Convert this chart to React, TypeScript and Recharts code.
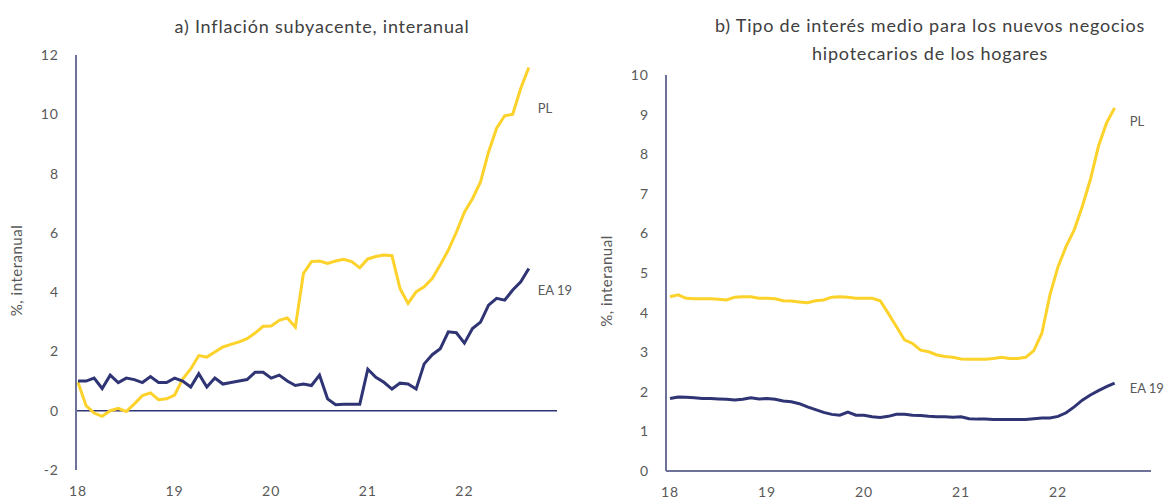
import React from 'react'
import { LineChart, Line, XAxis, YAxis, ReferenceLine, LabelList } from 'recharts'

// monthly, Jan 2018 onwards
const yearTicks = [0, 12, 24, 36, 48]
const yearLabels = ['18', '19', '20', '21', '22']

// a) core inflation, y/y
const coreEA = [
  1.0, 1.0, 1.1, 0.75, 1.2, 0.95, 1.1, 1.05, 0.95, 1.15, 0.95, 0.95,
  1.1, 1.0, 0.8, 1.25, 0.8, 1.1, 0.9, 0.95, 1.0, 1.05, 1.3, 1.3,
  1.1, 1.2, 1.0, 0.85, 0.9, 0.85, 1.2, 0.4, 0.2, 0.22, 0.22, 0.22,
  1.4, 1.13, 0.96, 0.73, 0.93, 0.9, 0.73, 1.58, 1.89, 2.09, 2.66, 2.63,
  2.28, 2.77, 2.99, 3.56, 3.79, 3.73, 4.07, 4.35, 4.8,
]
const corePL = [
  0.96, 0.17, -0.08, -0.19, 0.0, 0.08, -0.03, 0.23, 0.51, 0.6, 0.37, 0.4,
  0.53, 1.07, 1.41, 1.86, 1.81, 1.98, 2.15, 2.24, 2.32, 2.43, 2.62, 2.85,
  2.86, 3.05, 3.13, 2.82, 4.63, 5.03, 5.05, 4.97, 5.05, 5.11, 5.03, 4.82,
  5.12, 5.2, 5.25, 5.23, 4.12, 3.62, 4.01, 4.18, 4.46, 4.92, 5.42, 6.02,
  6.7, 7.15, 7.72, 8.73, 9.53, 9.95, 10.0, 10.88, 11.58,
]

// b) mortgage rates, new business
const mortEA = [
  1.83, 1.87, 1.86, 1.85, 1.83, 1.83, 1.82, 1.81, 1.79, 1.81, 1.85, 1.82,
  1.83, 1.81, 1.77, 1.75, 1.7, 1.62, 1.55, 1.48, 1.43, 1.41, 1.49, 1.41,
  1.41, 1.37, 1.35, 1.38, 1.43, 1.43, 1.41, 1.4, 1.38, 1.37, 1.37, 1.36,
  1.37, 1.32, 1.31, 1.31, 1.3, 1.3, 1.3, 1.3, 1.3, 1.32, 1.34, 1.34,
  1.38, 1.47, 1.62, 1.79, 1.92, 2.03, 2.13, 2.22,
]
const mortPL = [
  4.4, 4.45, 4.36, 4.35, 4.35, 4.35, 4.34, 4.32, 4.39, 4.4, 4.4, 4.36,
  4.36, 4.35, 4.3, 4.29, 4.27, 4.25, 4.3, 4.32, 4.39, 4.4, 4.39, 4.36,
  4.36, 4.36, 4.3, 3.98, 3.65, 3.31, 3.22, 3.05, 3.01, 2.93, 2.89, 2.87,
  2.83, 2.82, 2.82, 2.82, 2.84, 2.87, 2.84, 2.84, 2.87, 3.04, 3.48, 4.45,
  5.16, 5.67, 6.09, 6.68, 7.36, 8.2, 8.79, 9.17,
]

const leftTicks = [-2, 0, 2, 4, 6, 8, 10, 12]
const rightTicks = [0, 1, 2, 3, 4, 5, 6, 7, 8, 9, 10]

const coreData = coreEA.map((v, i) => ({ t: i, ea: v, pl: corePL[i] }))
const mortData = mortEA.map((v, i) => ({ t: i, ea: v, pl: mortPL[i] }))

const YELLOW = '#FDD22B'
const NAVY = '#2F3474'
const AXIS = '#6E7299'
const TXT = '#595959'
const FONT = "Lato, 'Open Sans', sans-serif"

const tickStyle = { fill: TXT, fontSize: 14, fontFamily: FONT, letterSpacing: 1 }
const yearFmt = (v: number) => yearLabels[yearTicks.indexOf(v)] ?? ''

const endLabel = (text: string, last: number, dx: number, dy: number) => (p: any) => {
  if (p.index !== last) return null
  return (
    <text x={p.x + dx} y={p.y + dy} fill={TXT} fontSize={13} fontFamily={FONT} dominantBaseline="middle">
      {text}
    </text>
  )
}

const yLabel = (offset: number) => ({
  value: '%, interanual',
  angle: -90,
  position: 'insideLeft' as const,
  offset,
  textAnchor: 'middle' as const,
  dy: 8,
  style: { fill: TXT, fontSize: 15, fontFamily: FONT, letterSpacing: 0.5 },
})

const titleStyle: React.CSSProperties = {
  position: 'absolute',
  textAlign: 'center',
  fontSize: 18,
  letterSpacing: 0.8,
  color: '#404040',
  whiteSpace: 'nowrap',
}

export default function App() {
  return (
    <div style={{ position: 'absolute', left: 0, top: 0, width: 1167, height: 503, background: '#fff', fontFamily: FONT }}>
      <div style={{ ...titleStyle, left: 0, top: 14, width: 644, lineHeight: '24px' }}>
        a) Inflación subyacente, interanual
      </div>
      <div style={{ ...titleStyle, left: 700, top: 11, width: 460, lineHeight: '28px' }}>
        b) Tipo de interés medio para los nuevos negocios
        <br />
        hipotecarios de los hogares
      </div>

      <div style={{ position: 'absolute', left: 0, top: 0 }}>
        <LineChart width={580} height={503} data={coreData} margin={{ top: 55, right: 23, bottom: 8, left: 6 }}>
          <XAxis
            dataKey="t"
            type="number"
            domain={[-0.25, 59.5]}
            ticks={yearTicks}
            tickFormatter={yearFmt}
            axisLine={false}
            tickLine={false}
            tickMargin={10}
            height={25}
            tick={tickStyle}
          />
          <YAxis
            domain={[-2, 12]}
            ticks={leftTicks}
            width={70}
            axisLine={{ stroke: AXIS, strokeWidth: 2 }}
            tickLine={false}
            tickMargin={11}
            tick={tickStyle}
            label={yLabel(11)}
          />
          <ReferenceLine y={0} stroke={NAVY} strokeWidth={1.5} />
          <Line dataKey="pl" stroke={YELLOW} strokeWidth={3} dot={false} isAnimationActive={false}>
            <LabelList dataKey="pl" content={endLabel('PL', corePL.length - 1, 9, 42)} />
          </Line>
          <Line dataKey="ea" stroke={NAVY} strokeWidth={3} dot={false} isAnimationActive={false}>
            <LabelList dataKey="ea" content={endLabel('EA 19', coreEA.length - 1, 9, 23)} />
          </Line>
        </LineChart>
      </div>

      <div style={{ position: 'absolute', left: 580, top: 0 }}>
        <LineChart width={587} height={503} data={mortData} margin={{ top: 75, right: 16, bottom: 7, left: 10 }}>
          <XAxis
            dataKey="t"
            type="number"
            domain={[-0.5, 59.5]}
            ticks={yearTicks}
            tickFormatter={yearFmt}
            axisLine={{ stroke: AXIS, strokeWidth: 2 }}
            tickLine={false}
            tickMargin={10}
            height={25}
            tick={tickStyle}
          />
          <YAxis
            domain={[0, 10]}
            ticks={rightTicks}
            width={76}
            axisLine={{ stroke: AXIS, strokeWidth: 2 }}
            tickLine={false}
            tickMargin={11}
            tick={tickStyle}
            label={yLabel(17)}
          />
          <Line dataKey="pl" stroke={YELLOW} strokeWidth={3} dot={false} isAnimationActive={false}>
            <LabelList dataKey="pl" content={endLabel('PL', mortPL.length - 1, 15, 15)} />
          </Line>
          <Line dataKey="ea" stroke={NAVY} strokeWidth={3} dot={false} isAnimationActive={false}>
            <LabelList dataKey="ea" content={endLabel('EA 19', mortEA.length - 1, 15, 7)} />
          </Line>
        </LineChart>
      </div>
    </div>
  )
}
